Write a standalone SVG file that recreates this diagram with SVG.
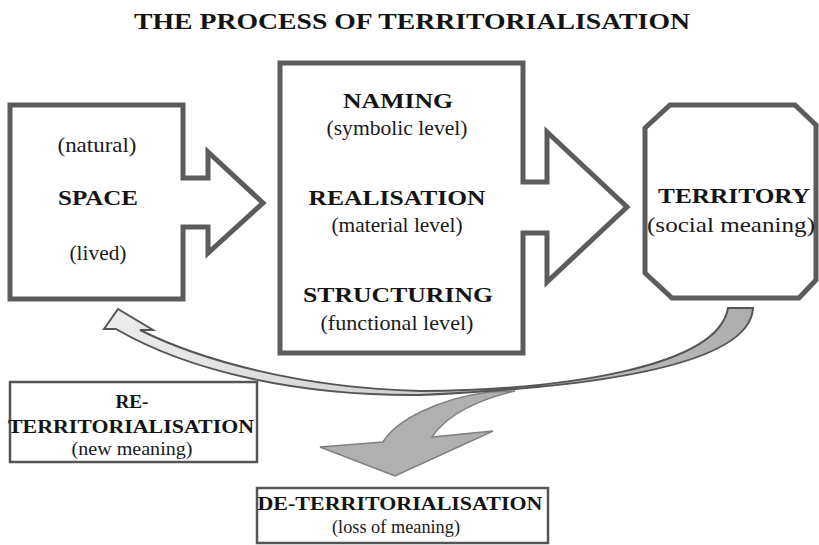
<svg xmlns="http://www.w3.org/2000/svg" width="819" height="545" viewBox="0 0 819 545">
  <defs>
    <linearGradient id="bandGrad" gradientUnits="userSpaceOnUse" x1="110" y1="0" x2="760" y2="0">
      <stop offset="0" stop-color="#ececec"/>
      <stop offset="0.45" stop-color="#d2d2d2"/>
      <stop offset="1" stop-color="#acacac"/>
    </linearGradient>
  </defs>
  <style>
    .shape { fill: #ffffff; stroke: #5c5c5c; stroke-width: 5; stroke-linejoin: miter; }
    .thin { fill: #ffffff; stroke: #555555; stroke-width: 2.5; }
    .b { font-family: "Liberation Serif", "Times New Roman", serif; font-weight: bold; fill: #141414; text-anchor: middle; }
    .r { font-family: "Liberation Serif", "Times New Roman", serif; fill: #1a1a1a; text-anchor: middle; }
    .band { fill: url(#bandGrad); stroke: #555555; stroke-width: 2; stroke-linejoin: miter; }
    .de { fill: #b0b0b0; stroke: #808080; stroke-width: 1.5; stroke-linejoin: miter; }
  </style>

  <text class="b" x="412" y="29" font-size="23" textLength="556" lengthAdjust="spacingAndGlyphs">THE PROCESS OF TERRITORIALISATION</text>

  <g id="space">
    <path class="shape" d="M10,105 H183 V178 H208 V152 L263,203 L208,253 V227 H183 V299 H10 Z"/>
    <text class="r" x="97" y="152" font-size="22" textLength="79" lengthAdjust="spacingAndGlyphs">(natural)</text>
    <text class="b" x="98" y="205" font-size="22" textLength="80" lengthAdjust="spacingAndGlyphs">SPACE</text>
    <text class="r" x="98" y="260" font-size="22" textLength="57" lengthAdjust="spacingAndGlyphs">(lived)</text>
  </g>

  <g id="process">
    <path class="shape" d="M280,63 H523 V182 H547 V132 L627,207 L547,282 V233 H523 V353 H280 Z"/>
    <text class="b" x="398" y="108" font-size="22" textLength="110" lengthAdjust="spacingAndGlyphs">NAMING</text>
    <text class="r" x="397" y="135" font-size="22" textLength="141" lengthAdjust="spacingAndGlyphs">(symbolic level)</text>
    <text class="b" x="397" y="205" font-size="22" textLength="177" lengthAdjust="spacingAndGlyphs">REALISATION</text>
    <text class="r" x="397" y="232" font-size="22" textLength="131" lengthAdjust="spacingAndGlyphs">(material level)</text>
    <text class="b" x="398" y="302" font-size="22" textLength="190" lengthAdjust="spacingAndGlyphs">STRUCTURING</text>
    <text class="r" x="397" y="330" font-size="22" textLength="153" lengthAdjust="spacingAndGlyphs">(functional level)</text>
  </g>

  <g id="territory">
    <path class="shape" d="M670,105 H795 L816,125 V280 L799,298 H672 L645,273 V128 Z"/>
    <text class="b" x="734" y="203" font-size="22" textLength="152" lengthAdjust="spacingAndGlyphs">TERRITORY</text>
    <text class="r" x="731" y="232" font-size="22" textLength="168" lengthAdjust="spacingAndGlyphs">(social meaning)</text>
  </g>

  <g id="reterritorialisation">
    <rect class="thin" x="10" y="382" width="247" height="80"/>
    <text class="b" x="132" y="408" font-size="18" textLength="33" lengthAdjust="spacingAndGlyphs">RE-</text>
    <text class="b" x="131" y="433" font-size="18" textLength="246" lengthAdjust="spacingAndGlyphs">TERRITORIALISATION</text>
    <text class="r" x="132" y="455" font-size="19" textLength="121" lengthAdjust="spacingAndGlyphs">(new meaning)</text>
  </g>

  <g id="deterritorialisation">
    <rect class="thin" x="257" y="488" width="291" height="55"/>
    <text class="b" x="400" y="510" font-size="18" textLength="285" lengthAdjust="spacingAndGlyphs">DE-TERRITORIALISATION</text>
    <text class="r" x="396" y="533" font-size="18" textLength="128" lengthAdjust="spacingAndGlyphs">(loss of meaning)</text>
  </g>

  <g id="connectors">
    <path class="de" d="M515,391 C480,399 447,414 432,437 L493,431 L395,476 L320,447 L383,442 C396,420 440,398 490,392 Z"/>
    <path class="band" d="M140,330 C200,360 300,388 420,391 C560,390 718,368 728,308 L753,308 C750,368 580,388 420,395 C300,396 190,372 116,329 L104,329 L118,309 L153,330 Z"/>
  </g>
</svg>
